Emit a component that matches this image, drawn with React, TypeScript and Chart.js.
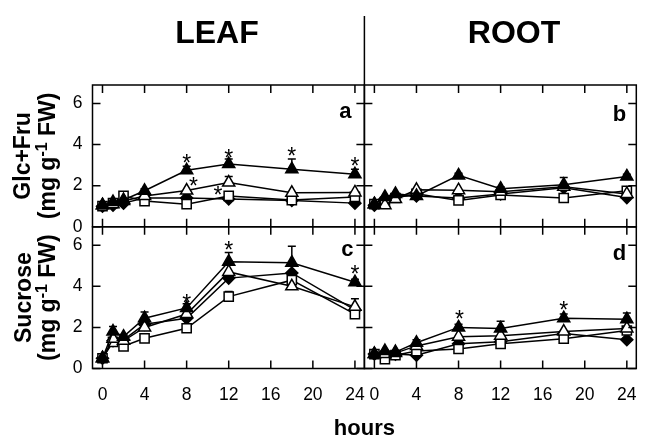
import React, { useEffect, useRef } from 'react';
import { Chart, registerables } from 'chart.js';

Chart.register(...registerables);

const FONT = "'Liberation Sans', Arial, Helvetica, sans-serif";

// Sampling times (hours) and axis ticks
const hours = [0, 1, 2, 4, 8, 12, 18, 24];
const xTickValues = [0, 4, 8, 12, 16, 20, 24];
const yTickValues = [0, 2, 4, 6];

// Glc+Fru, leaf (panel a)
const leafHexSolidTri = [1.05, 1.2, 1.3, 1.75, 2.75, 3.05, 2.8, 2.55];
const leafHexSolidTriErr = [0, 0, 0, 0.1, 0.2, 0.25, 0.5, 0.25];
const leafHexOpenTri = [1.05, 1.1, 1.25, 1.5, 1.76, 2.15, 1.65, 1.67];
const leafHexOpenTriErr = [0, 0, 0, 0, 0, 0.3, 0, 0];
const leafHexOpenSq = [1.0, 1.15, 1.5, 1.25, 1.1, 1.5, 1.3, 1.45];
const leafHexSolidDia = [1.0, 1.05, 1.15, 1.4, 1.4, 1.35, 1.28, 1.15];

// Glc+Fru, root (panel b)
const rootHexSolidTri = [1.1, 1.45, 1.6, 1.5, 2.5, 1.85, 2.05, 2.45];
const rootHexSolidTriErr = [0, 0, 0, 0, 0.1, 0.1, 0.35, 0.1];
const rootHexOpenTri = [1.1, 1.05, 1.35, 1.8, 1.78, 1.7, 1.95, 1.6];
const rootHexOpenSq = [1.1, 1.2, 1.4, 1.6, 1.28, 1.55, 1.4, 1.75];
const rootHexSolidDia = [1.05, 1.35, 1.5, 1.5, 1.4, 1.6, 1.9, 1.42];

// Sucrose, leaf (panel c)
const leafSucSolidTri = [0.5, 1.8, 1.55, 2.45, 2.95, 5.2, 5.15, 4.2];
const leafSucSolidTriErr = [0, 0.25, 0.1, 0.3, 0.2, 0.45, 0.8, 0.15];
const leafSucOpenTri = [0.5, 1.45, 1.35, 2.0, 2.65, 4.7, 4.0, 3.0];
const leafSucOpenTriErr = [0, 0, 0, 0, 0, 0, 0, 0.4];
const leafSucOpenSq = [0.5, 1.3, 1.08, 1.47, 1.96, 3.5, 4.3, 2.65];
const leafSucOpenSqErr = [0, 0, 0, 0, 0, 0.25, 0, 0];
const leafSucSolidDia = [0.5, 1.35, 1.4, 2.15, 2.45, 4.4, 4.65, 2.85];

// Sucrose, root (panel d)
const rootSucSolidTri = [0.7, 0.85, 0.8, 1.25, 2.0, 1.95, 2.45, 2.4];
const rootSucSolidTriErr = [0, 0, 0, 0.15, 0.15, 0.35, 0.2, 0.3];
const rootSucOpenTri = [0.7, 0.7, 0.75, 1.1, 1.55, 1.6, 1.8, 1.95];
const rootSucOpenSq = [0.7, 0.45, 0.65, 0.85, 0.95, 1.2, 1.45, 1.85];
const rootSucSolidDia = [0.7, 0.75, 0.7, 0.65, 1.2, 1.3, 1.7, 1.4];

// Significance asterisks [hour, value]
const leafHexStars = [[8, 3.32], [12, 3.58], [18, 3.64], [24, 3.2], [8.65, 2.18], [10.98, 1.78]];
const leafSucStars = [[8, 3.43], [12, 6.0], [24, 4.82]];
const rootSucStars = [[8.1, 2.61], [18, 3.05]];

const markers = [
  { pointStyle: 'triangle', radius: 7, fill: '#000' },
  { pointStyle: 'triangle', radius: 7, fill: '#fff' },
  { pointStyle: 'rect', radius: 6.5, fill: '#fff' },
  { pointStyle: 'rectRot', radius: 6, fill: '#000' },
];

function panelSets(xAxisID: string, yAxisID: string, series: number[][], errs: (number[] | null)[]) {
  return series.map((vals, k) => ({
    data: hours.map((h, i) => ({ x: h, y: vals[i] })),
    errors: errs[k],
    xAxisID,
    yAxisID,
    borderColor: '#000',
    borderWidth: 1.5,
    tension: 0,
    fill: false,
    clip: false,
    pointStyle: markers[k].pointStyle,
    pointRadius: markers[k].radius,
    pointHoverRadius: markers[k].radius,
    pointBackgroundColor: markers[k].fill,
    pointBorderColor: '#000',
    pointBorderWidth: 1.5,
  }));
}

const panels = [
  { x: 'xLeaf', y: 'yTop', letter: 'a', dx: 13, dy: 33, stars: leafHexStars },
  { x: 'xRoot', y: 'yTop', letter: 'b', dx: 10, dy: 36, stars: [] as number[][] },
  { x: 'xLeaf', y: 'yBot', letter: 'c', dx: 11, dy: 29, stars: leafSucStars },
  { x: 'xRoot', y: 'yBot', letter: 'd', dx: 10, dy: 33, stars: rootSucStars },
];

function drawRotated(ctx: CanvasRenderingContext2D, parts: { t: string; sup?: boolean }[], x: number, y: number, size: number) {
  const fontOf = (p: { sup?: boolean }) => `bold ${p.sup ? Math.round(size * 0.68) : size}px ${FONT}`;
  let total = 0;
  const widths = parts.map((p) => {
    ctx.font = fontOf(p);
    const w = ctx.measureText(p.t).width;
    total += w;
    return w;
  });
  ctx.save();
  ctx.translate(x, y);
  ctx.rotate(-Math.PI / 2);
  ctx.textAlign = 'left';
  ctx.textBaseline = 'alphabetic';
  let cx = -total / 2;
  parts.forEach((p, i) => {
    ctx.font = fontOf(p);
    ctx.fillText(p.t, cx, p.sup ? -size * 0.36 : 0);
    cx += widths[i];
  });
  ctx.restore();
}

const decor = {
  id: 'panelDecor',
  beforeDatasetsDraw(chart: any) {
    const ctx: CanvasRenderingContext2D = chart.ctx;
    ctx.save();
    ctx.strokeStyle = '#000';
    ctx.lineWidth = 1.5;
    chart.data.datasets.forEach((ds: any) => {
      if (!ds.errors) return;
      const xs = chart.scales[ds.xAxisID];
      const ys = chart.scales[ds.yAxisID];
      ds.data.forEach((pt: any, i: number) => {
        const e = ds.errors[i];
        if (!e) return;
        const px = xs.getPixelForValue(pt.x);
        const py = ys.getPixelForValue(pt.y);
        const pe = ys.getPixelForValue(pt.y + e);
        ctx.beginPath();
        ctx.moveTo(px, py);
        ctx.lineTo(px, pe);
        ctx.moveTo(px - 4, pe);
        ctx.lineTo(px + 4, pe);
        ctx.stroke();
      });
    });
    ctx.restore();
  },
  afterDraw(chart: any) {
    const ctx: CanvasRenderingContext2D = chart.ctx;
    const s = chart.scales;
    ctx.save();
    ctx.strokeStyle = '#000';
    ctx.fillStyle = '#000';
    ctx.lineWidth = 1.5;
    const tick = 8;
    panels.forEach((p) => {
      const xs = s[p.x];
      const ys = s[p.y];
      const l = xs.left, r = xs.right, t = ys.top, b = ys.bottom;
      ctx.strokeRect(l, t, r - l, b - t);
      ctx.beginPath();
      xTickValues.forEach((v) => {
        const px = xs.getPixelForValue(v);
        ctx.moveTo(px, b);
        ctx.lineTo(px, b - tick);
        ctx.moveTo(px, t);
        ctx.lineTo(px, t + tick);
      });
      yTickValues.forEach((v) => {
        const py = ys.getPixelForValue(v);
        ctx.moveTo(l, py);
        ctx.lineTo(l + tick, py);
        ctx.moveTo(r, py);
        ctx.lineTo(r - tick, py);
      });
      ctx.stroke();

      // significance marks
      ctx.font = `23px ${FONT}`;
      ctx.textAlign = 'center';
      ctx.textBaseline = 'alphabetic';
      const m = ctx.measureText('*');
      const shift = (m.actualBoundingBoxAscent - m.actualBoundingBoxDescent) / 2;
      p.stars.forEach(([hx, vy]) => {
        ctx.fillText('*', xs.getPixelForValue(hx), ys.getPixelForValue(vy) + shift);
      });

      // panel letter
      ctx.font = `bold 22px ${FONT}`;
      ctx.textAlign = 'right';
      ctx.fillText(p.letter, r - p.dx, t + p.dy);
    });

    // column divider above the plots
    const divX = s.xLeaf.right;
    ctx.beginPath();
    ctx.moveTo(divX, 16);
    ctx.lineTo(divX, s.yTop.top);
    ctx.stroke();

    ctx.textAlign = 'center';
    ctx.textBaseline = 'alphabetic';
    ctx.font = `bold 32px ${FONT}`;
    ctx.fillText('LEAF', 217, 42.5);
    ctx.fillText('ROOT', 514, 42.5);

    ctx.font = `bold 22px ${FONT}`;
    ctx.fillText('hours', divX, 435);

    const topMid = (s.yTop.top + s.yTop.bottom) / 2;
    const botMid = (s.yBot.top + s.yBot.bottom) / 2;
    const unit = [{ t: '(mg g' }, { t: '-1', sup: true }, { t: ' FW)' }];
    drawRotated(ctx, [{ t: 'Glc+Fru' }], 30, topMid, 23);
    drawRotated(ctx, unit, 55, topMid, 23);
    drawRotated(ctx, [{ t: 'Sucrose' }], 31, botMid, 23);
    drawRotated(ctx, unit, 55, botMid, 23);
    ctx.restore();
  },
};

function xScale(weight: number) {
  return {
    type: 'linear',
    position: 'bottom',
    stack: 'hours',
    stackWeight: 1,
    weight,
    min: -0.95,
    max: 24.9,
    afterBuildTicks: (sc: any) => {
      sc.ticks = xTickValues.map((v) => ({ value: v }));
    },
    afterFit: (sc: any) => {
      sc.height = 72.5;
    },
    grid: { display: false, drawTicks: false },
    border: { display: false },
    ticks: { color: '#000', font: { size: 17.5, family: FONT }, padding: 16, maxRotation: 0, autoSkip: false },
  };
}

function yScale(weight: number) {
  return {
    type: 'linear',
    position: 'left',
    stack: 'conc',
    stackWeight: 1,
    weight,
    min: 0,
    max: 6.9,
    afterBuildTicks: (sc: any) => {
      sc.ticks = yTickValues.map((v) => ({ value: v }));
    },
    afterFit: (sc: any) => {
      sc.width = 92.5;
    },
    grid: { display: false, drawTicks: false },
    border: { display: false },
    ticks: { color: '#000', font: { size: 17.5, family: FONT }, padding: 10 },
  };
}

export default function App() {
  const ref = useRef<HTMLCanvasElement | null>(null);

  useEffect(() => {
    if (!ref.current) return;
    const datasets = [
      ...panelSets('xLeaf', 'yTop', [leafHexSolidTri, leafHexOpenTri, leafHexOpenSq, leafHexSolidDia], [leafHexSolidTriErr, leafHexOpenTriErr, null, null]),
      ...panelSets('xRoot', 'yTop', [rootHexSolidTri, rootHexOpenTri, rootHexOpenSq, rootHexSolidDia], [rootHexSolidTriErr, null, null, null]),
      ...panelSets('xLeaf', 'yBot', [leafSucSolidTri, leafSucOpenTri, leafSucOpenSq, leafSucSolidDia], [leafSucSolidTriErr, leafSucOpenTriErr, leafSucOpenSqErr, null]),
      ...panelSets('xRoot', 'yBot', [rootSucSolidTri, rootSucOpenTri, rootSucOpenSq, rootSucSolidDia], [rootSucSolidTriErr, null, null, null]),
    ];
    const chart = new Chart(ref.current, {
      type: 'line',
      data: { datasets } as any,
      options: {
        animation: false,
        responsive: false,
        events: [],
        layout: { padding: { left: 0, top: 85, right: 3, bottom: 0 } },
        plugins: { legend: { display: false }, tooltip: { enabled: false } },
        scales: {
          xLeaf: xScale(1),
          xRoot: xScale(2),
          yTop: yScale(2),
          yBot: yScale(1),
        } as any,
      },
      plugins: [decor],
    } as any);
    return () => chart.destroy();
  }, []);

  return (
    <div style={{ position: 'fixed', left: 0, top: 0, width: 660, height: 441, background: '#fff' }}>
      <canvas ref={ref} width={660} height={441} />
    </div>
  );
}
